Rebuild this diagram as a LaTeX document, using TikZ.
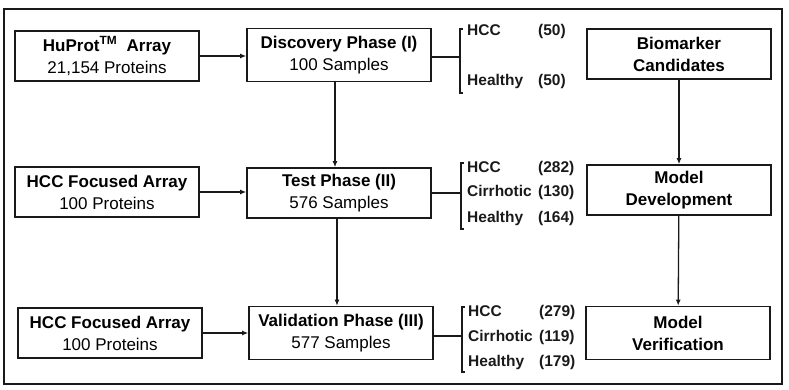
\documentclass[tikz,border=0pt]{standalone}
\usepackage{fontspec}
\setmainfont{Liberation Sans}
\usepackage{tikz}
\usetikzlibrary{positioning,calc}
\usetikzlibrary{arrows.meta}
\definecolor{InkGray}{RGB}{25,25,25}
\tikzset{
	box/.style={draw=InkGray,line width=1.6pt,fill=white,align=center,
		minimum width=184pt,minimum height=50pt,inner sep=2pt,
		font=\fontsize{17}{22}\selectfont},
	flow/.style={draw=InkGray,line width=1.3pt,-{Latex[length=6pt,width=5pt]}},
	brace/.style={draw=InkGray,line width=1.4pt},
	grp/.style={anchor=west,inner sep=0pt,text=InkGray,text height=11pt,text depth=3.5pt,
		font=\fontsize{15.5}{18}\selectfont\bfseries},
}

\begin{document}
\begin{tikzpicture}[x=1pt,y=-1pt]
					\useasboundingbox (0,0) rectangle (789,390);
					\draw[InkGray,line width=1.8pt] (4,9) rectangle (782,384);
					% left column
					\node[box] (huprot) at (107,56) {\textbf{HuProt\textsuperscript{TM}~~Array}\\21,154 Proteins};
					\node[box] (focA) at (107,192) {\textbf{HCC Focused Array}\\100 Proteins};
					\node[box] (focB) at (110,333) {\textbf{HCC Focused Array}\\100 Proteins};
					% phases
					\node[box,minimum height=53pt] (disc) at (339,55) {\textbf{Discovery Phase (I)}\\100 Samples};
					\node[box] (test) at (339,193) {\textbf{Test Phase (II)}\\576 Samples};
					\node[box,minimum height=53pt] (valid) at (341,333) {\textbf{Validation Phase (III)}\\577 Samples};
					% right column
					\node[box,font=\fontsize{17}{22}\selectfont\bfseries] (bio) at (679,54) {Biomarker\\Candidates};
					\node[box,font=\fontsize{17}{22}\selectfont\bfseries] (dev) at (679,190) {Model\\Development};
					\node[box,minimum height=53pt,font=\fontsize{17}{22}\selectfont\bfseries] (ver) at (678,333) {Model\\Verification};
					\draw[flow] (huprot.east) -- (huprot.east -| disc.west);
					\draw[flow] (focA.east) -- (focA.east -| test.west);
					\draw[flow] (focB.east) -- (focB.east -| valid.west);
					\draw[flow] (disc.south -| 335,0) -- (test.north -| 335,0);
					\draw[flow] (test.south -| 337,0) -- (valid.north -| 337,0);
					\draw[flow] (bio) -- (dev);
					\draw[flow] (dev) -- (ver);
					% sample groups
					\coordinate (bkAt) at (460,29);
					\coordinate (bkAb) at (460,93);
					\coordinate (bkBt) at (461,163);
					\coordinate (bkBb) at (461,229);
					\coordinate (bkCt) at (462,307);
					\coordinate (bkCb) at (462,372);
					\draw[brace] ($(bkAt)+(3,0)$) -- (bkAt) -- (bkAb) -- ($(bkAb)+(3,0)$);
					\draw[brace] ($(bkBt)+(3,0)$) -- (bkBt) -- (bkBb) -- ($(bkBb)+(3,0)$);
					\draw[brace] ($(bkCt)+(3,0)$) -- (bkCt) -- (bkCb) -- ($(bkCb)+(3,0)$);
					\draw[brace] (disc.east |- 0,57) -- (bkAt |- 0,57);
					\draw[brace] (test.east |- 0,193) -- (bkBt |- 0,193);
					\draw[brace] (valid.east |- 0,336) -- (bkCt |- 0,336);
					\node[grp] (hccA) at (467,32) {HCC};
					\node[grp] (hccAn) at (538,32) {(50)};
					\node[grp] (hltA) at (467,82) {Healthy};
					\node[grp] (hltAn) at (538,82) {(50)};
					\node[grp] (hccB) at (467,169) {HCC};
					\node[grp] (hccBn) at (538,169) {(282)};
					\node[grp] (cirB) at (467,193) {Cirrhotic};
					\node[grp] (cirBn) at (538,193) {(130)};
					\node[grp] (hltB) at (467,219) {Healthy};
					\node[grp] (hltBn) at (538,219) {(164)};
					\node[grp] (hccC) at (468,313) {HCC};
					\node[grp] (hccCn) at (539,313) {(279)};
					\node[grp] (cirC) at (468,338) {Cirrhotic};
					\node[grp] (cirCn) at (539,338) {(119)};
					\node[grp] (hltC) at (468,363) {Healthy};
					\node[grp] (hltCn) at (539,363) {(179)};
				\end{tikzpicture}
\end{document}
